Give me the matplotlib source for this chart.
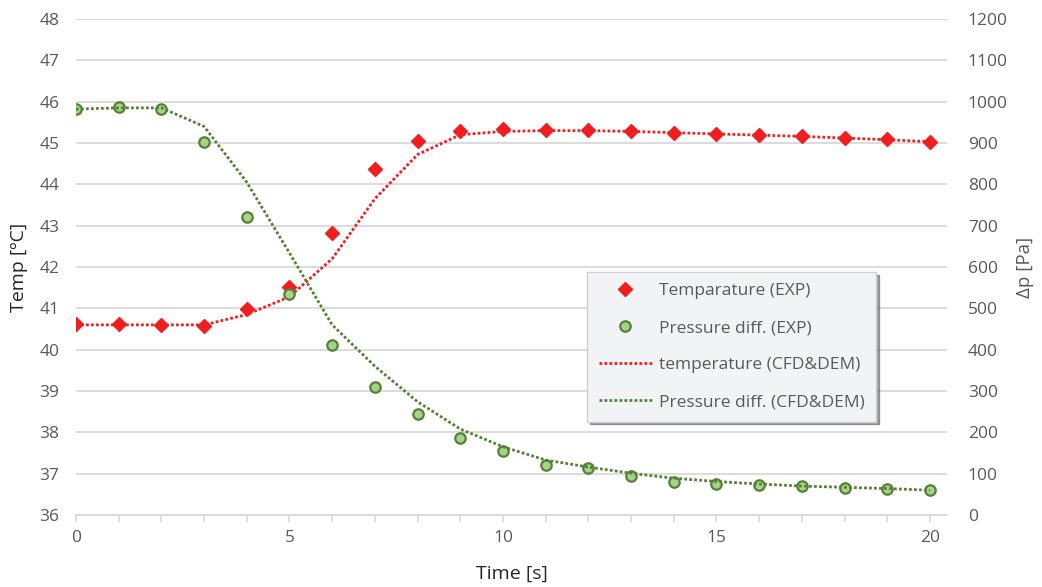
import matplotlib
matplotlib.use("Agg")
import matplotlib.pyplot as plt
from matplotlib.lines import Line2D

plt.rcParams['font.family'] = ['Open Sans', 'DejaVu Sans']

# time [s]
time = list(range(21))

# experimental data
temp_exp = [40.62, 40.61, 40.59, 40.58, 40.98, 41.51, 42.82, 44.36, 45.06, 45.30, 45.34,
            45.32, 45.31, 45.28, 45.24, 45.22, 45.19, 45.17, 45.11, 45.09, 45.03]
press_exp = [982, 987, 982, 903, 720, 535, 411, 310, 244, 187, 155,
             121, 113, 95, 81, 75, 73, 70, 66, 63, 60]

# CFD&DEM simulation
temp_cfd = [40.60, 40.60, 40.60, 40.60, 40.85, 41.28, 42.20, 43.65, 44.72, 45.20, 45.28,
            45.30, 45.30, 45.28, 45.25, 45.22, 45.19, 45.16, 45.12, 45.08, 45.03]
press_cfd = [982, 985, 985, 940, 805, 634, 460, 360, 274, 208, 165,
             133, 116, 101, 89, 81, 75, 70, 67, 64, 60]

RED = '#f01e1e'
GREEN_LINE = '#548235'
GREEN_FACE = '#a9d18e'
GRID = '#d9d9d9'
TXT = '#595959'

fig = plt.figure(figsize=(10.42, 5.87), dpi=100)
ax = fig.add_axes([76 / 1042, 1 - 515 / 587, (947 - 76) / 1042, (515 - 19) / 587])
ax2 = ax.twinx()

dots = (0, (1, 0.8))
ax.plot(time, temp_exp, linestyle='none', marker='D', markersize=7,
        color=RED, zorder=3)
ax2.plot(time, press_exp, linestyle='none', marker='o', markersize=7.5,
         markerfacecolor=GREEN_FACE, markeredgecolor=GREEN_LINE, markeredgewidth=1.6, zorder=3)
ax.plot(time, temp_cfd, linestyle=dots, linewidth=2.0, color=RED, zorder=4)
ax2.plot(time, press_cfd, linestyle=dots, linewidth=2.0, color=GREEN_LINE, zorder=4)

ax.set_xlim(0, 20.4)
ax.set_ylim(36, 48)
ax2.set_ylim(0, 1200)
ax.set_yticks(range(36, 49))
ax2.set_yticks(range(0, 1201, 100))
ax.set_xticks(range(0, 21, 5))
ax.set_xticks(range(0, 21), minor=True)

ax.grid(axis='y', color=GRID, linewidth=1.3)
ax.set_axisbelow(True)
for a in (ax, ax2):
    for s in a.spines.values():
        s.set_visible(False)
ax.spines['bottom'].set_visible(True)
ax.spines['bottom'].set_color(GRID)
ax.spines['bottom'].set_linewidth(1.3)

ax.tick_params(axis='y', length=0, pad=12, labelsize=12.5, labelcolor=TXT)
ax2.tick_params(axis='y', length=0, pad=15, labelsize=12.5, labelcolor=TXT)
ax.tick_params(axis='x', which='both', length=5, width=1.2, color=GRID,
               pad=6, labelsize=12.5, labelcolor=TXT)

ax.set_xlabel('Time [s]', fontsize=14, color='#262626', labelpad=13)
ax.set_ylabel('Temp [ºC]', fontsize=14, color='#262626', labelpad=8)
ax2.set_ylabel('Δp [Pa]', fontsize=13.5, color=TXT, labelpad=6)

handles = [
    Line2D([], [], linestyle='none', marker='D', markersize=7, color=RED),
    Line2D([], [], linestyle='none', marker='o', markersize=7.5, markerfacecolor=GREEN_FACE,
           markeredgecolor=GREEN_LINE, markeredgewidth=1.6),
    Line2D([], [], linestyle=dots, linewidth=2.0, color=RED),
    Line2D([], [], linestyle=dots, linewidth=2.0, color=GREEN_LINE),
]
labels = ['Temparature (EXP)', 'Pressure diff. (EXP)', 'temperature (CFD&DEM)',
          'Pressure diff. (CFD&DEM)']
leg = ax2.legend(handles, labels, loc='upper left', bbox_to_anchor=(0.587, 0.49),
                 fontsize=12.5, frameon=True, fancybox=False, shadow=True,
                 facecolor='#f2f3f5', edgecolor='#d0d0d0', framealpha=1,
                 labelspacing=1.2, handlelength=3.1, handletextpad=0.4,
                 borderpad=0.65, borderaxespad=0)
for t in leg.get_texts():
    t.set_color(TXT)
leg.set_zorder(10)

fig.savefig('out.png', dpi=100)
